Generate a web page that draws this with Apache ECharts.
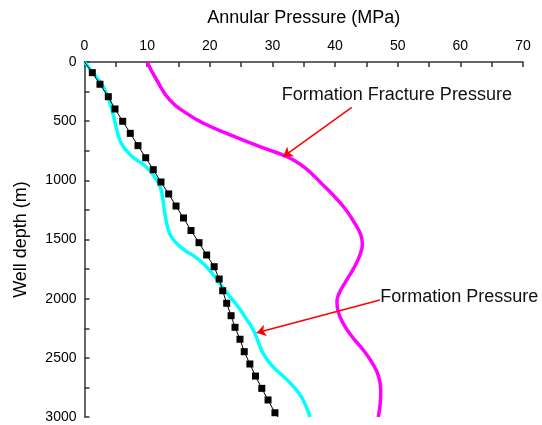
<!DOCTYPE html>
<html><head><meta charset="utf-8">
<script src="https://cdn.jsdelivr.net/npm/echarts@6/dist/echarts.min.js"></script>
<style>html,body{margin:0;padding:0;background:#fff}#c{width:542px;height:425px}</style>
</head><body><div id="c"></div>
<script>
// Black squares (reference line): pressure (MPa) and depth (m)
const refPressure = [0, 1.25, 2.47, 3.80, 4.87, 6.10, 7.31, 8.54, 9.77, 10.98, 12.21, 13.44, 14.61, 15.8, 17.0, 18.28, 19.5, 20.7, 21.5, 22.06, 22.7, 23.4, 24.03, 24.82, 25.5, 26.4, 27.3, 28.3, 29.3, 30.4, 30.9];
const refDepth    = [0, 90, 188, 293, 397, 501, 603, 707, 809, 910, 1014, 1115, 1217, 1318, 1424, 1527, 1631, 1730, 1834, 1933, 2039, 2144, 2242, 2343, 2448, 2552, 2654, 2758, 2856, 2964, 3000];
// Formation pressure (cyan)
const fpPressure = [0, 1.4, 2.9, 3.9, 4.6, 5.2, 5.9, 7.4, 9.6, 11.2, 12.1, 12.5, 12.8, 13.2, 13.9, 15.6, 18.0, 19.8, 21.3, 22.8, 24.4, 25.7, 26.9, 27.7, 28.5, 30.0, 32.2, 34.1, 35.2, 36.0];
const fpDepth    = [0, 95, 200, 320, 450, 580, 690, 790, 875, 970, 1060, 1160, 1270, 1380, 1480, 1575, 1660, 1750, 1850, 1955, 2060, 2160, 2260, 2360, 2462, 2570, 2680, 2790, 2890, 3000];
// Formation fracture pressure (magenta)
const ffpPressure = [10.0, 11.5, 13.6, 16.3, 19.0, 22.7, 28.0, 32.3, 34.6, 36.4, 37.9, 39.6, 41.6, 43.1, 44.1, 44.35, 43.9, 42.9, 41.7, 40.7, 40.3, 40.5, 41.2, 42.7, 44.5, 45.9, 46.9, 47.3, 47.2, 46.9];
const ffpDepth    = [0, 150, 320, 434, 518, 603, 716, 800, 870, 950, 1030, 1120, 1240, 1360, 1460, 1540, 1640, 1750, 1855, 1950, 2025, 2110, 2200, 2320, 2434, 2540, 2650, 2780, 2890, 3000];
// Annotations (data coords: [MPa, m])
const annotTexts = ['Formation Fracture Pressure', 'Formation Pressure'];
const annotTextPos = [[31.5, 279], [47.2, 1986]];
const arrowFrom = [[42.66, 383], [47.17, 2011]];
const arrowTo   = [[31.74, 800], [27.5, 2288]];

const zip = (a, b) => a.map((v, i) => [v, b[i]]);
const refData = zip(refPressure, refDepth).map((p, i, arr) =>
  (i === 0 || i === arr.length - 1) ? { value: p, symbol: 'none' } : p);

const chart = echarts.init(document.getElementById('c'), null, { renderer: 'canvas' });
const font = 'Liberation Sans, Arial, sans-serif';
chart.setOption({
  animation: false,
  backgroundColor: '#fff',
  grid: { left: 84.5, top: 62, right: 19, bottom: 8 },
  xAxis: {
    type: 'value', position: 'top', min: 0, max: 70, interval: 10,
    name: 'Annular Pressure (MPa)', nameLocation: 'middle', nameGap: 35,
    nameTextStyle: { fontSize: 18, color: '#000', fontFamily: font },
    axisLine: { show: true, lineStyle: { color: '#333', width: 1.5 } },
    axisTick: { show: true, inside: true, length: 5, lineStyle: { color: '#333', width: 1.5 } },
    minorTick: { show: true, splitNumber: 2, length: 5, lineStyle: { color: '#333', width: 1.5 } },
    axisLabel: { fontSize: 14, color: '#000', margin: 9, fontFamily: font },
    splitLine: { show: false }
  },
  yAxis: {
    type: 'value', inverse: true, min: 0, max: 3000, interval: 500,
    name: 'Well depth (m)', nameLocation: 'middle', nameGap: 54,
    nameTextStyle: { fontSize: 18, color: '#000', fontFamily: font },
    axisLine: { show: true, lineStyle: { color: '#333', width: 1.5 } },
    axisTick: { show: true, inside: true, length: 5, lineStyle: { color: '#333', width: 1.5 } },
    minorTick: { show: true, splitNumber: 2, length: 5, lineStyle: { color: '#333', width: 1.5 } },
    axisLabel: { fontSize: 14, color: '#000', margin: 8, fontFamily: font, formatter: v => String(v) },
    splitLine: { show: false }
  },
  series: [
    {
      type: 'line', data: refData, symbol: 'rect', symbolSize: 7,
      itemStyle: { color: '#000' }, lineStyle: { color: '#000', width: 1 }, z: 3
    },
    {
      type: 'line', data: zip(fpPressure, fpDepth), smooth: 0.5, showSymbol: false, symbol: 'none',
      lineStyle: { color: '#00FFFF', width: 3.5 }, z: 2
    },
    {
      type: 'line', data: zip(ffpPressure, ffpDepth), smooth: 0.5, showSymbol: false, symbol: 'none',
      lineStyle: { color: '#FF00FF', width: 3.5 }, z: 2,
      markLine: {
        silent: true, symbol: ['none', 'arrow'], symbolSize: 9,
        label: { show: false },
        lineStyle: { color: '#FF0000', width: 1.5, type: 'solid' },
        data: arrowFrom.map((f, i) => [{ coord: f }, { coord: arrowTo[i] }])
      }
    }
  ]
});

const gfx = annotTexts.map((t, i) => {
  const p = chart.convertToPixel({ gridIndex: 0 }, annotTextPos[i]);
  return {
    type: 'text', x: p[0], y: p[1],
    style: { text: t, fill: '#111', font: '18px ' + font, verticalAlign: 'middle', align: 'left' },
    z: 10
  };
});
chart.setOption({ graphic: gfx });
</script>
</body></html>
